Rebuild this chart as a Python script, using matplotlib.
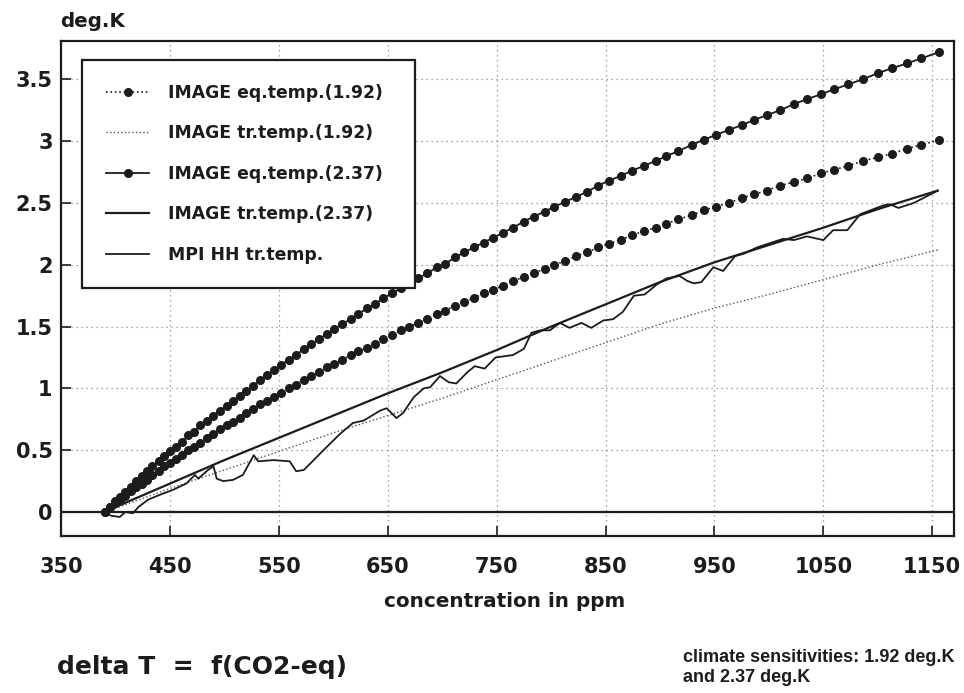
import matplotlib.pyplot as plt

# values
# CO2-eq concentration (ppm) of the marked IMAGE time steps
conc = [390, 395, 400, 404, 409, 414, 419, 424, 429, 434,
        440, 445, 450, 456, 461, 467, 472, 478, 484, 490,
        496, 502, 508, 514, 520, 526, 533, 539, 546, 552,
        559, 566, 573, 580, 587, 594, 601, 608, 616, 623,
        631, 638, 646, 654, 662, 670, 678, 686, 695, 703,
        712, 720, 729, 738, 747, 756, 765, 775, 784, 794,
        803, 813, 823, 833, 843, 853, 864, 874, 885, 896,
        906, 917, 929, 940, 951, 963, 975, 986, 998, 1010,
        1023, 1035, 1048, 1060, 1073, 1086, 1100, 1113, 1127, 1140,
        1156]
eq_192 = [0.00, 0.04, 0.07, 0.10, 0.13, 0.17, 0.20, 0.23, 0.26, 0.30,
          0.33, 0.37, 0.40, 0.43, 0.46, 0.50, 0.53, 0.56, 0.60, 0.63,
          0.67, 0.70, 0.73, 0.76, 0.80, 0.83, 0.87, 0.90, 0.93, 0.96,
          1.00, 1.03, 1.07, 1.10, 1.13, 1.17, 1.20, 1.23, 1.27, 1.30,
          1.33, 1.36, 1.40, 1.43, 1.47, 1.50, 1.53, 1.56, 1.60, 1.63,
          1.67, 1.70, 1.73, 1.77, 1.80, 1.83, 1.87, 1.90, 1.93, 1.97,
          2.00, 2.03, 2.07, 2.10, 2.14, 2.17, 2.20, 2.24, 2.27, 2.30,
          2.33, 2.37, 2.40, 2.44, 2.47, 2.50, 2.54, 2.57, 2.60, 2.64,
          2.67, 2.70, 2.74, 2.77, 2.80, 2.84, 2.87, 2.90, 2.94, 2.97,
          3.01]
eq_237 = [0.00, 0.04, 0.09, 0.12, 0.16, 0.20, 0.25, 0.29, 0.33, 0.37,
          0.41, 0.45, 0.49, 0.53, 0.57, 0.62, 0.65, 0.70, 0.74, 0.78,
          0.82, 0.86, 0.90, 0.94, 0.98, 1.02, 1.07, 1.11, 1.15, 1.19,
          1.23, 1.27, 1.32, 1.36, 1.40, 1.44, 1.48, 1.52, 1.56, 1.60,
          1.65, 1.68, 1.73, 1.77, 1.81, 1.85, 1.89, 1.93, 1.98, 2.01,
          2.06, 2.10, 2.14, 2.18, 2.22, 2.26, 2.30, 2.35, 2.39, 2.43,
          2.47, 2.51, 2.55, 2.59, 2.64, 2.68, 2.72, 2.76, 2.80, 2.84,
          2.88, 2.92, 2.97, 3.01, 3.05, 3.09, 3.13, 3.17, 3.21, 3.25,
          3.30, 3.34, 3.38, 3.42, 3.46, 3.50, 3.55, 3.59, 3.63, 3.67,
          3.72]

# transient temperatures (plain lines)
tr_conc = [390, 400, 450, 500, 550, 600, 650, 700, 750, 800,
           850, 900, 950, 1000, 1050, 1100, 1155]
tr_192 = [0.00, 0.03, 0.19, 0.34, 0.49, 0.64, 0.78, 0.92, 1.07, 1.22,
          1.37, 1.52, 1.65, 1.76, 1.88, 2.00, 2.12]
tr_237 = [0.00, 0.04, 0.23, 0.42, 0.60, 0.78, 0.96, 1.13, 1.31, 1.50,
          1.68, 1.86, 2.02, 2.16, 2.30, 2.45, 2.60]

# MPI Hamburg transient run
mpi_conc = [390, 396, 404, 409, 416, 421, 430, 441, 453, 465,
            473, 476, 485, 490, 493, 499, 508, 517, 527, 531,
            545, 560, 566, 573, 591, 606, 618, 628, 643, 649,
            658, 664, 674, 683, 689, 698, 706, 713, 723, 730,
            739, 749, 765, 775, 782, 790, 799, 808, 817, 828,
            837, 848, 857, 866, 876, 886, 897, 906, 918, 925,
            931, 938, 949, 958, 969, 977, 989, 1013, 1023, 1035,
            1050, 1059, 1072, 1084, 1105, 1111, 1119, 1133, 1155]
mpi_hh = [0.00, -0.03, -0.04, 0.00, -0.01, 0.04, 0.10, 0.14, 0.18, 0.23,
          0.30, 0.27, 0.34, 0.37, 0.27, 0.25, 0.26, 0.30, 0.46, 0.41,
          0.42, 0.41, 0.33, 0.34, 0.50, 0.63, 0.72, 0.74, 0.82, 0.84,
          0.76, 0.80, 0.93, 1.00, 1.01, 1.10, 1.05, 1.04, 1.13, 1.18,
          1.16, 1.25, 1.27, 1.32, 1.45, 1.47, 1.47, 1.53, 1.49, 1.53,
          1.49, 1.55, 1.56, 1.62, 1.75, 1.76, 1.84, 1.89, 1.91, 1.87,
          1.85, 1.86, 1.98, 1.95, 2.07, 2.09, 2.14, 2.21, 2.20, 2.23,
          2.20, 2.28, 2.28, 2.41, 2.48, 2.49, 2.46, 2.50, 2.60]

x_ticks = [350, 450, 550, 650, 750, 850, 950, 1050, 1150]
y_ticks = [0, 0.5, 1, 1.5, 2, 2.5, 3, 3.5]
y_labels = ['0', '0.5', '1', '1.5', '2', '2.5', '3', '3.5']

ink = '#1c1c1c'
W, H = 964, 693

fig = plt.figure(figsize=(W / 100, H / 100), dpi=100)
ax = fig.add_axes([61 / W, 1 - 536 / H, 893 / W, 495.3 / H])

ax.plot(conc, eq_192, ls=':', lw=1.2, color=ink, marker='o', ms=5.5,
        label='IMAGE eq.temp.(1.92)')
ax.plot(tr_conc, tr_192, ls=':', lw=1.0, color='#555555',
        label='IMAGE tr.temp.(1.92)')
ax.plot(conc, eq_237, ls='-', lw=1.3, color=ink, marker='o', ms=5.5,
        label='IMAGE eq.temp.(2.37)')
ax.plot(tr_conc, tr_237, ls='-', lw=1.6, color=ink,
        label='IMAGE tr.temp.(2.37)')
ax.plot(mpi_conc, mpi_hh, ls='-', lw=1.3, color=ink,
        label='MPI HH tr.temp.')
ax.axhline(0, color=ink, lw=1.6)

ax.set_xlim(350, 1170)
ax.set_ylim(-0.194, 3.813)
ax.set_xticks(x_ticks)
ax.set_yticks(y_ticks)
ax.set_yticklabels(y_labels)
ax.grid(True, ls=(0, (1, 3)), color='#888888', lw=0.9)
ax.tick_params(direction='in', length=7.5, width=1.2, labelsize=15,
               colors=ink)
ax.tick_params(axis='x', pad=15)
ax.tick_params(axis='y', pad=6)
for lab in ax.get_xticklabels() + ax.get_yticklabels():
    lab.set_fontweight('bold')
for sp in ax.spines.values():
    sp.set_linewidth(1.6)
    sp.set_color(ink)

leg = ax.legend(loc='upper left',
                bbox_to_anchor=(82 / W, 1 - 60 / H, 333 / W, 0.0),
                bbox_transform=fig.transFigure, mode='expand',
                prop={'weight': 'bold', 'size': 12.4},
                fancybox=False, framealpha=1, edgecolor=ink,
                borderpad=1.4, labelspacing=1.3, handlelength=2.5,
                handletextpad=1.1, borderaxespad=0, numpoints=1)
leg.get_frame().set_linewidth(1.6)
for t in leg.get_texts():
    t.set_color(ink)

fig.text(60 / W, 1 - 26.7 / H, 'deg.K', fontsize=14.3, weight='bold',
         va='baseline', color=ink)
fig.text(505 / W, 1 - 607 / H, 'concentration in ppm', fontsize=14.4,
         weight='bold', ha='center', va='baseline', color=ink)
fig.text(57 / W, 1 - 674 / H, 'delta T  =  f(CO2-eq)', fontsize=18,
         weight='bold', va='baseline', color=ink)
fig.text(683 / W, 1 - 649 / H,
         'climate sensitivities: 1.92 deg.K\nand 2.37 deg.K',
         family='Liberation Sans', fontsize=13, weight='bold',
         va='top', linespacing=1.2, color=ink)

fig.savefig('out.png', dpi=100)
